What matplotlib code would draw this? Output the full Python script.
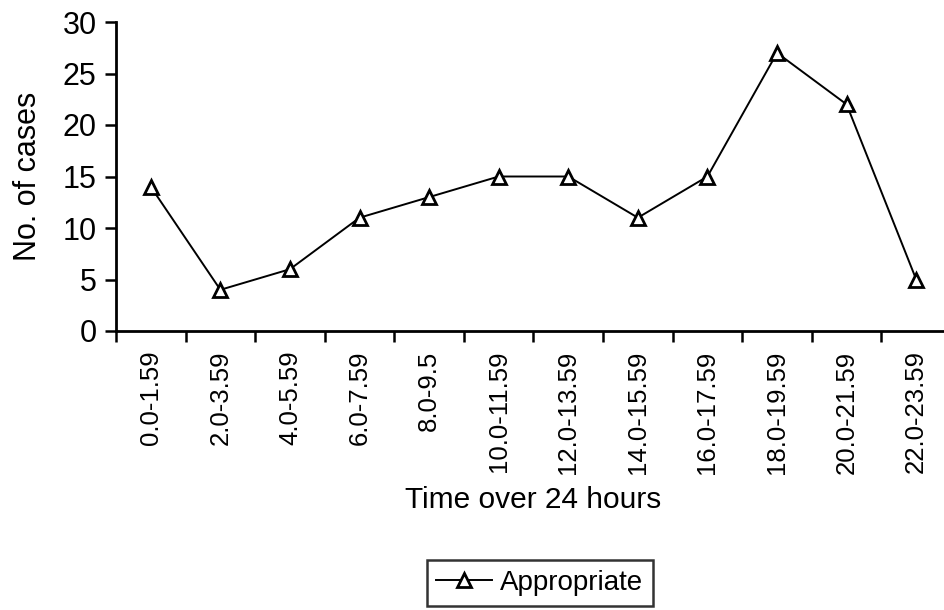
import matplotlib
matplotlib.use("Agg")
import matplotlib.pyplot as plt
import numpy as np

plt.rcParams['font.family'] = ['Liberation Sans', 'DejaVu Sans']

# data
time_bins = ["0.0-1.59", "2.0-3.59", "4.0-5.59", "6.0-7.59", "8.0-9.5", "10.0-11.59",
             "12.0-13.59", "14.0-15.59", "16.0-17.59", "18.0-19.59", "20.0-21.59", "22.0-23.59"]
cases = [14, 4, 6, 11, 13, 15, 15, 11, 15, 27, 22, 5]
series_name = "Appropriate"

fig = plt.figure(figsize=(9.45, 6.10), dpi=100)
ax = fig.add_axes([116/945, 1-331/610, 835/945, 309/610])

x = np.arange(len(time_bins))
ax.plot(x, cases, color='black', lw=1.4, marker='^', ms=10, mfc='white',
        mec='black', mew=2.0, label=series_name, clip_on=False)

ax.set_xlim(-0.5, len(time_bins) - 0.5)
ax.set_ylim(0, 30)
ax.set_yticks(range(0, 31, 5))
ax.tick_params(axis='y', labelsize=22, length=8, width=1.8, direction='out', pad=6)

# category labels in the middle, tick marks on the boundaries
ax.set_xticks(x)
ax.set_xticklabels(time_bins, rotation=90, fontsize=18.5)
ax.tick_params(axis='x', which='major', length=0, pad=14)
ax.set_xticks(np.arange(-0.5, len(time_bins), 1), minor=True)
ax.tick_params(axis='x', which='minor', length=8, width=1.8, direction='out')

for s in ['top', 'right']:
    ax.spines[s].set_visible(False)
for s in ['left', 'bottom']:
    ax.spines[s].set_linewidth(2.0)

ax.set_ylabel("No. of cases", fontsize=22)
ax.yaxis.set_label_coords(-0.088, 0.5)
ax.set_xlabel("Time over 24 hours", fontsize=21.5, va='center')
ax.xaxis.set_label_coords(0.5, -0.547)

leg = fig.legend(loc='center', bbox_to_anchor=(540/945, 1-583/610), fontsize=20,
                 frameon=True, fancybox=False, edgecolor='black', handlelength=2,
                 borderpad=0.35, handletextpad=0.3)
leg.get_frame().set_linewidth(1.8)

fig.savefig("out.png", dpi=100)
